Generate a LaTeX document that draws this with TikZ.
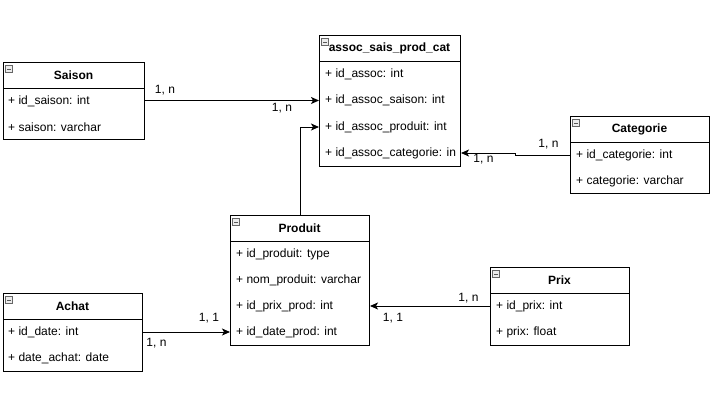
\documentclass[tikz,border=0pt]{standalone}
\usepackage{fontspec}
\setmainfont{Liberation Sans}
\usetikzlibrary{arrows.meta}
\begin{document}
\begin{tikzpicture}[x=1pt,y=-1pt,
  box/.style={draw, line width=1pt, anchor=north west, inner sep=0pt, fill=white},
  title/.style={font=\fontsize{12}{14}\selectfont\bfseries, inner sep=0pt},
  attr/.style={font=\fontsize{12}{14}\selectfont, anchor=west, inner sep=0pt},
  card/.style={font=\fontsize{12}{14}\selectfont, inner sep=0pt},
  icon/.style={draw=gray!80!black, fill=gray!15, line width=0.6pt, minimum size=7pt, inner sep=0pt},
  conn/.style={line width=1pt, -{Stealth[length=8pt,width=7pt,inset=2pt]}}
]
\useasboundingbox (0,0) rectangle (723,418);

% Saison
\node[box, minimum width=141, minimum height=77] (saison) at (3,62) {};
\draw[line width=1pt] (3,88) -- (144,88);
\node[icon] (si) at (9,69) {}; \draw[line width=0.6pt,gray!70!black] (7,69) -- (11,69);
\node[title] (st) at (73.5,75) {Saison};
\node[attr] (s1) at (8,101) {+ id\_saison: int};
\node[attr] (s2) at (8,127) {+ saison: varchar};

% assoc
\node[box, minimum width=141, minimum height=131] (assoc) at (319,35) {};
\draw[line width=1pt] (319,61) -- (460,61);
\node[icon] (ai) at (325,42) {}; \draw[line width=0.6pt,gray!70!black] (323,42) -- (327,42);
\node[title] (at) at (389.5,48) {assoc\_sais\_prod\_cat};
\node[attr] (a1) at (325,74) {+ id\_assoc: int};
\node[attr] (a2) at (325,100.5) {+ id\_assoc\_saison: int};
\node[attr] (a3) at (325,127) {+ id\_assoc\_produit: int};
\node[attr] (a4) at (325,153) {+ id\_assoc\_categorie: in};

% Categorie
\node[box, minimum width=139, minimum height=77] (cat) at (570,116) {};
\draw[line width=1pt] (570,142) -- (709,142);
\node[icon] (ci) at (576,123) {}; \draw[line width=0.6pt,gray!70!black] (574,123) -- (578,123);
\node[title] (ct) at (639.5,129) {Categorie};
\node[attr] (c1) at (576,155) {+ id\_categorie: int};
\node[attr] (c2) at (576,181) {+ categorie: varchar};

% Produit
\node[box, minimum width=139, minimum height=130] (prod) at (230,215) {};
\draw[line width=1pt] (230,241) -- (369,241);
\node[icon] (pi) at (236,222) {}; \draw[line width=0.6pt,gray!70!black] (234,222) -- (238,222);
\node[title] (pt) at (299.5,228) {Produit};
\node[attr] (p1) at (236,254) {+ id\_produit: type};
\node[attr] (p2) at (236,280) {+ nom\_produit: varchar};
\node[attr] (p3) at (236,306) {+ id\_prix\_prod: int};
\node[attr] (p4) at (236,332) {+ id\_date\_prod: int};

% Achat
\node[box, minimum width=139, minimum height=78] (achat) at (3,293) {};
\draw[line width=1pt] (3,319) -- (142,319);
\node[icon] (hi) at (9,300) {}; \draw[line width=0.6pt,gray!70!black] (7,300) -- (11,300);
\node[title] (ht) at (72.5,306) {Achat};
\node[attr] (h1) at (8,332) {+ id\_date: int};
\node[attr] (h2) at (8,358) {+ date\_achat: date};

% Prix
\node[box, minimum width=139, minimum height=78] (prix) at (490,267) {};
\draw[line width=1pt] (490,293) -- (629,293);
\node[icon] (xi) at (496,274) {}; \draw[line width=0.6pt,gray!70!black] (494,274) -- (498,274);
\node[title] (xt) at (559.5,280) {Prix};
\node[attr] (x1) at (496,306) {+ id\_prix: int};
\node[attr] (x2) at (496,332) {+ prix: float};

% connectors
\draw[conn] (saison.east |- a2) -- (assoc.west |- a2);
\draw[conn] (prod.north) -- (prod.north |- a3) -- (assoc.west |- a3);
\coordinate (cj) at (515,155);
\draw[conn] (cat.west |- c1) -- (cj) -- (cj |- a4) -- (assoc.east |- a4);
\draw[conn] (achat.east |- h1) -- (prod.west |- p4);
\draw[conn] (prix.west |- x1) -- (prod.east |- p3);

% cardinalities
\node[card] (l1) at (165,90) {1, n};
\node[card] (l2) at (282,108) {1, n};
\node[card] (l3) at (548.5,144) {1, n};
\node[card] (l4) at (483.5,159) {1, n};
\node[card] (l5) at (209,318) {1, 1};
\node[card] (l6) at (156.5,343) {1, n};
\node[card] (l7) at (468.5,298) {1, n};
\node[card] (l8) at (393,318) {1, 1};
\end{tikzpicture}
\end{document}
